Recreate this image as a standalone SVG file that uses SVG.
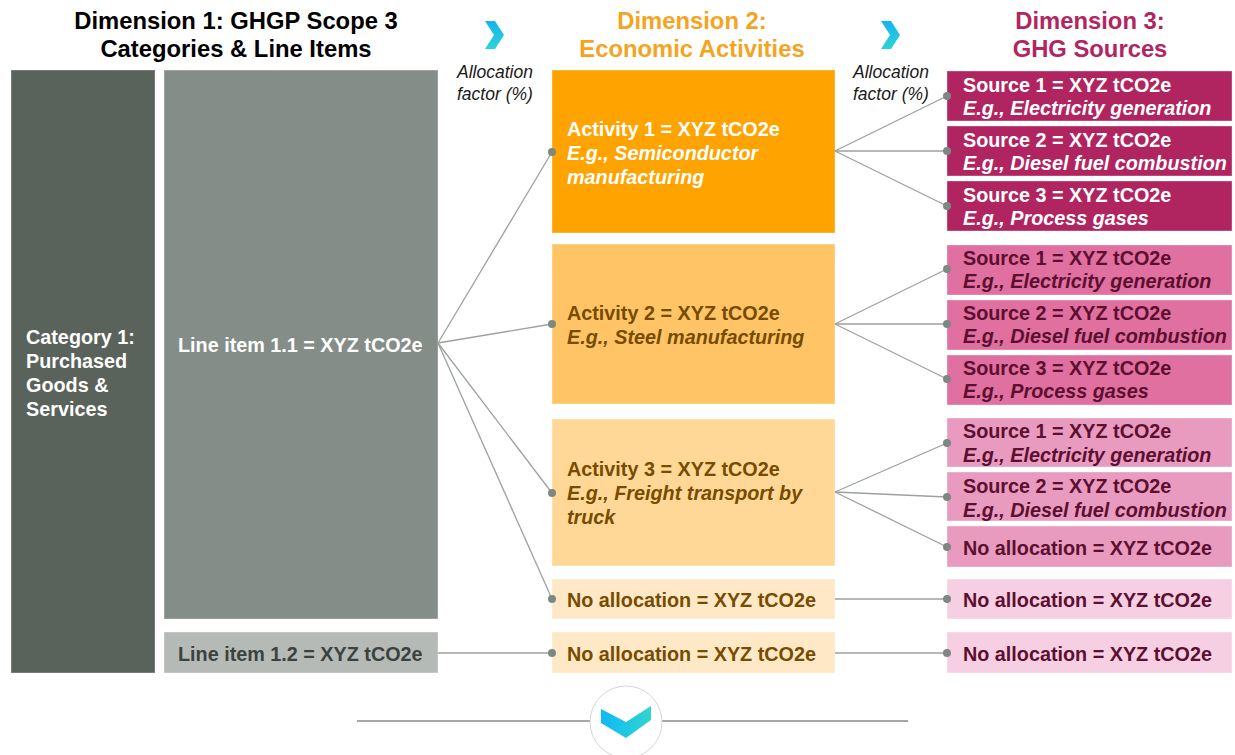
<svg xmlns="http://www.w3.org/2000/svg" width="1235" height="755" viewBox="0 0 1235 755">
<defs>
<linearGradient id="cyanV" x1="0" y1="0" x2="0" y2="1"><stop offset="0" stop-color="#14b4f2"/><stop offset="1" stop-color="#2dd4d2"/></linearGradient>
<linearGradient id="cyanH" x1="0" y1="0" x2="1" y2="0"><stop offset="0" stop-color="#0fb9f5"/><stop offset="1" stop-color="#2fd6cf"/></linearGradient>
<style>
text{font-family:"Liberation Sans",Arial,sans-serif;font-weight:bold;font-size:19.8px}
.hd{font-size:23.8px;text-anchor:middle}
.af{font-weight:normal;font-style:italic;font-size:17.5px;fill:#1a1a1a}
.it{font-style:italic}
.w{fill:#ffffff}
.br{fill:#774b00}
.mr{fill:#5c0f30}
.box{stroke:#ffffff;stroke-opacity:0.35;stroke-width:1}
.con line{stroke:#9ba29e;stroke-width:1.3}
.con circle{fill:#7d8883}
</style>
</defs>
<rect width="1235" height="755" fill="#ffffff"/>

<!-- headers -->
<g id="headers">
<text class="hd" x="236" y="29" fill="#000">Dimension 1: GHGP Scope 3</text>
<text class="hd" x="236" y="57" fill="#000">Categories &amp; Line Items</text>
<text class="hd" x="692" y="29" fill="#f5a41f">Dimension 2:</text>
<text class="hd" x="692" y="57" fill="#f5a41f">Economic Activities</text>
<text class="hd" x="1090" y="29" fill="#b3255f">Dimension 3:</text>
<text class="hd" x="1090" y="57" fill="#b3255f">GHG Sources</text>
<polygon points="485,21 495,21 504,35 495,49 485,49 494,35" fill="url(#cyanV)"/>
<polygon points="881,21 891,21 900,35 891,49 881,49 890,35" fill="url(#cyanV)"/>
<text class="af" x="457" y="78">Allocation</text>
<text class="af" x="457" y="100">factor (%)</text>
<text class="af" x="853" y="78">Allocation</text>
<text class="af" x="853" y="100">factor (%)</text>
</g>

<!-- Dimension 1 -->
<g id="category1"><rect class="box" x="11" y="70" width="144" height="603" fill="#5a625c"/>
<text class="w" x="26" y="344">Category 1:</text><text class="w" x="26" y="368">Purchased</text><text class="w" x="26" y="392">Goods &amp;</text><text class="w" x="26" y="416">Services</text></g>
<g id="lineitem11"><rect class="box" x="164" y="70" width="274" height="549" fill="#858d88"/>
<text class="w" x="178" y="352">Line item 1.1 = XYZ tCO2e</text></g>
<g id="lineitem12"><rect class="box" x="164" y="632" width="274" height="41" fill="#b5bab7"/>
<text x="178" y="661" fill="#3c423e">Line item 1.2 = XYZ tCO2e</text></g>

<!-- Dimension 2 -->
<g id="activity1"><rect class="box" x="552" y="70" width="283" height="163" fill="#ffa300"/>
<text class="w" x="567" y="136">Activity 1 = XYZ tCO2e</text><text class="w it" x="567" y="160">E.g., Semiconductor</text><text class="w it" x="567" y="184">manufacturing</text></g>
<g id="activity2"><rect class="box" x="552" y="244" width="283" height="160" fill="#ffc466"/>
<text class="br" x="567" y="320">Activity 2 = XYZ tCO2e</text><text class="br it" x="567" y="344">E.g., Steel manufacturing</text></g>
<g id="activity3"><rect class="box" x="552" y="419" width="283" height="147" fill="#ffd898"/>
<text class="br" x="567" y="476">Activity 3 = XYZ tCO2e</text><text class="br it" x="567" y="500">E.g., Freight transport by</text><text class="br it" x="567" y="524">truck</text></g>
<g id="activityNA1"><rect class="box" x="552" y="579" width="283" height="40" fill="#ffe8c6"/>
<text class="br" x="567" y="607">No allocation = XYZ tCO2e</text></g>
<g id="activityNA2"><rect class="box" x="552" y="632" width="283" height="41" fill="#ffe8c6"/>
<text class="br" x="567" y="661">No allocation = XYZ tCO2e</text></g>

<!-- Dimension 3 -->
<g id="src1a"><rect class="box" x="947" y="71" width="285" height="50" fill="#b0255f"/>
<text class="w" x="963" y="92">Source 1 = XYZ tCO2e</text><text class="w it" x="963" y="115">E.g., Electricity generation</text></g>
<g id="src1b"><rect class="box" x="947" y="126" width="285" height="50" fill="#b0255f"/>
<text class="w" x="963" y="147">Source 2 = XYZ tCO2e</text><text class="w it" x="963" y="170">E.g., Diesel fuel combustion</text></g>
<g id="src1c"><rect class="box" x="947" y="181" width="285" height="50" fill="#b0255f"/>
<text class="w" x="963" y="202">Source 3 = XYZ tCO2e</text><text class="w it" x="963" y="225">E.g., Process gases</text></g>

<g id="src2a"><rect class="box" x="947" y="245" width="285" height="50" fill="#e0709f"/>
<text class="mr" x="963" y="265">Source 1 = XYZ tCO2e</text><text class="mr it" x="963" y="288">E.g., Electricity generation</text></g>
<g id="src2b"><rect class="box" x="947" y="300" width="285" height="50" fill="#e0709f"/>
<text class="mr" x="963" y="320">Source 2 = XYZ tCO2e</text><text class="mr it" x="963" y="343">E.g., Diesel fuel combustion</text></g>
<g id="src2c"><rect class="box" x="947" y="355" width="285" height="50" fill="#e0709f"/>
<text class="mr" x="963" y="375">Source 3 = XYZ tCO2e</text><text class="mr it" x="963" y="398">E.g., Process gases</text></g>

<g id="src3a"><rect class="box" x="947" y="418" width="285" height="49" fill="#e99bbf"/>
<text class="mr" x="963" y="438">Source 1 = XYZ tCO2e</text><text class="mr it" x="963" y="462">E.g., Electricity generation</text></g>
<g id="src3b"><rect class="box" x="947" y="472" width="285" height="49" fill="#e99bbf"/>
<text class="mr" x="963" y="493">Source 2 = XYZ tCO2e</text><text class="mr it" x="963" y="517">E.g., Diesel fuel combustion</text></g>
<g id="src3c"><rect class="box" x="947" y="526" width="285" height="41" fill="#e99bbf"/>
<text class="mr" x="963" y="555">No allocation = XYZ tCO2e</text></g>

<g id="srcNA1"><rect class="box" x="947" y="579" width="285" height="40" fill="#f6d0e2"/>
<text class="mr" x="963" y="607">No allocation = XYZ tCO2e</text></g>
<g id="srcNA2"><rect class="box" x="947" y="632" width="285" height="41" fill="#f6d0e2"/>
<text class="mr" x="963" y="661">No allocation = XYZ tCO2e</text></g>

<!-- connectors -->
<g id="connectors" class="con">
<line x1="438" y1="343" x2="552" y2="152"/>
<line x1="438" y1="343" x2="552" y2="324"/>
<line x1="438" y1="343" x2="552" y2="493"/>
<line x1="438" y1="343" x2="552" y2="599"/>
<line x1="438" y1="653" x2="552" y2="653"/>
<line x1="835" y1="151" x2="947" y2="96"/>
<line x1="835" y1="151" x2="947" y2="151"/>
<line x1="835" y1="151" x2="947" y2="206"/>
<line x1="835" y1="324" x2="947" y2="269"/>
<line x1="835" y1="324" x2="947" y2="324"/>
<line x1="835" y1="324" x2="947" y2="379"/>
<line x1="835" y1="492" x2="947" y2="443"/>
<line x1="835" y1="492" x2="947" y2="497"/>
<line x1="835" y1="492" x2="947" y2="547"/>
<line x1="835" y1="599" x2="947" y2="599"/>
<line x1="835" y1="653" x2="947" y2="653"/>
<circle cx="552" cy="152" r="4"/>
<circle cx="552" cy="324" r="4"/>
<circle cx="552" cy="493" r="4"/>
<circle cx="552" cy="599" r="4"/>
<circle cx="552" cy="653" r="4"/>
<circle cx="947" cy="96" r="4"/>
<circle cx="947" cy="151" r="4"/>
<circle cx="947" cy="206" r="4"/>
<circle cx="947" cy="269" r="4"/>
<circle cx="947" cy="324" r="4"/>
<circle cx="947" cy="379" r="4"/>
<circle cx="947" cy="443" r="4"/>
<circle cx="947" cy="497" r="4"/>
<circle cx="947" cy="547" r="4"/>
<circle cx="947" cy="599" r="4"/>
<circle cx="947" cy="653" r="4"/>
</g>

<!-- bottom divider -->
<g id="divider">
<line x1="357" y1="721" x2="908" y2="721" stroke="#8a8a8a" stroke-width="1.5"/>
<circle cx="626" cy="722" r="36" fill="#ffffff" stroke="#d6d6d6" stroke-width="1"/>
<polygon points="601,709 626,722 651,706 651,720 626,738 601,723" fill="url(#cyanH)"/>
</g>
</svg>
